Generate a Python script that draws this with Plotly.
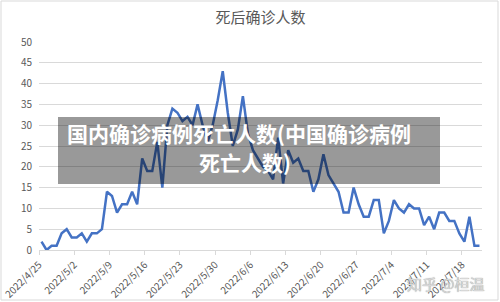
import plotly.graph_objects as go
import pandas as pd

# ---- data ----
start_date = "2022-04-25"
deaths = [2, 0, 1, 1, 4, 5, 3, 3, 4, 2, 4, 4, 5, 14, 13, 9, 11, 11, 14, 11,
          22, 19, 19, 26, 15, 30, 34, 33, 31, 32, 30, 35, 30, 26, 30, 36, 43, 33, 25, 29,
          37, 28, 24, 22, 20, 19, 17, 27, 16, 24, 21, 22, 19, 19, 14, 17, 23, 18, 16, 14,
          9, 9, 15, 11, 8, 8, 12, 12, 4, 7, 12, 10, 9, 11, 10, 10, 6, 8, 5, 9,
          9, 7, 7, 4, 2, 8, 1, 1]
tick_dates = ["2022-04-25", "2022-05-02", "2022-05-09", "2022-05-16", "2022-05-23",
              "2022-05-30", "2022-06-06", "2022-06-13", "2022-06-20", "2022-06-27",
              "2022-07-04", "2022-07-11", "2022-07-18"]
tick_labels = ["2022/4/25", "2022/5/2", "2022/5/9", "2022/5/16", "2022/5/23",
               "2022/5/30", "2022/6/6", "2022/6/13", "2022/6/20", "2022/6/27",
               "2022/7/4", "2022/7/11", "2022/7/18"]
y_ticks = [0, 5, 10, 15, 20, 25, 30, 35, 40, 45, 50]
title_text = "死后确诊人数"
overlay_line1 = "国内确诊病例死亡人数(中国确诊病例"
overlay_line2 = "死亡人数)"
watermark = "知乎 @桓温"

dates = pd.date_range(start_date, periods=len(deaths), freq="D")
half = pd.Timedelta(hours=12)
tickvals = [pd.Timestamp(d) - half for d in tick_dates]
x_range = [dates[0] - half, dates[-1] + half]

W, H = 500, 302
L, R, T, B = 39, 18, 42, 52
pw, ph = W - L - R, H - T - B

def px(x):
    return (x - L) / pw

def py(y):
    return (H - B - y) / ph

fig = go.Figure()
fig.add_trace(go.Scatter(
    x=dates, y=deaths, mode="lines",
    line=dict(color="#4472C4", width=2.5),
    hoverinfo="skip", showlegend=False,
))

grey = "#595959"
fig.update_layout(
    width=W, height=H,
    margin=dict(l=L, r=R, t=T, b=B, autoexpand=False),
    paper_bgcolor="white", plot_bgcolor="white",
    font=dict(family="Noto Sans CJK SC, Noto Sans, sans-serif", color=grey),
    title=dict(text=title_text, x=0.5, xref="paper", xanchor="center",
               y=1 - 18 / H, yref="container", yanchor="middle",
               font=dict(size=15, color=grey)),
    xaxis=dict(type="date", range=x_range, tickvals=tickvals, ticktext=tick_labels,
               tickangle=-45, tickfont=dict(size=10, color=grey), automargin=False,
               showgrid=False, showline=True, linecolor="#d9d9d9", linewidth=1,
               ticks="outside", ticklen=4, tickcolor="#d9d9d9", zeroline=False),
    yaxis=dict(range=[0, 50], tickvals=y_ticks, tickfont=dict(size=10, color=grey),
               showgrid=True, gridcolor="#d9d9d9", gridwidth=1, automargin=False,
               zeroline=False, showline=False, ticklabelstandoff=6),
)

# outer border of the chart
fig.add_shape(type="rect", xref="paper", yref="paper",
              x0=px(1), x1=px(498), y0=py(300), y1=py(1),
              line=dict(color="#d9d9d9", width=1), fillcolor="rgba(0,0,0,0)", layer="above")

# grey overlay box
fig.add_shape(type="rect", xref="paper", yref="paper",
              x0=px(58), x1=px(440), y0=py(184), y1=py(117),
              line=dict(width=0), fillcolor="rgba(0,0,0,0.4)", layer="above")

txt_font = dict(family="Noto Sans CJK SC, sans-serif", size=21, color="white", weight="bold")
fig.add_annotation(text=overlay_line1, xref="paper", yref="paper",
                   x=px(239), y=py(133), xanchor="center", yanchor="middle",
                   showarrow=False, font=txt_font)
fig.add_annotation(text=overlay_line2, xref="paper", yref="paper",
                   x=px(245), y=py(162), xanchor="center", yanchor="middle",
                   showarrow=False, font=txt_font)

fig.add_annotation(text=watermark, xref="paper", yref="paper",
                   x=px(446), y=py(283), xanchor="center", yanchor="middle",
                   showarrow=False,
                   font=dict(family="Noto Sans CJK SC, sans-serif", size=15,
                             color="rgba(215,215,215,1)",
                             shadow="0px 0px 1px rgba(70,70,70,0.7)"))

fig.write_html("out.html")
